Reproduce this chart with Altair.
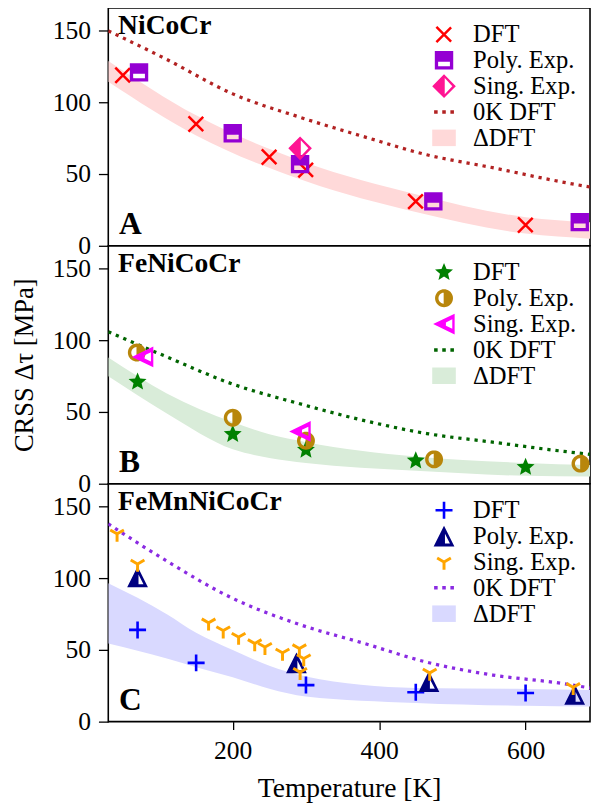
import math
import altair as alt
import pandas as pd

# ---------------- data ----------------
LEGEND_LABELS = ["DFT", "Poly. Exp.", "Sing. Exp.", "0K DFT", "ΔDFT"]
X_TICKS = [200, 400, 600]
Y_TICKS = [0, 50, 100, 150]
X_DOMAIN = [30, 688]
Y_DOMAIN = [0, 166]
X_LABEL = "Temperature [K]"
Y_LABEL = "CRSS Δτ [MPa]"
PANEL_NAMES = ["NiCoCr", "FeNiCoCr", "FeMnNiCoCr"]
PANEL_LETTERS = ["A", "B", "C"]

# Panel A : NiCoCr
A_dft_T = [50, 150, 250, 300, 450, 600]
A_dft_tau = [119, 85, 62, 53, 31, 14.5]
A_poly_T = [72, 200, 292, 474, 674]
A_poly_tau = [121, 78.5, 57, 31, 16.5]
A_sing_T = [292]
A_sing_tau = [68]
A_0K_T = [30, 110, 200, 290, 380, 465, 555, 645, 688]
A_0K_tau = [150, 130, 106, 90, 76, 63.5, 54.5, 45, 41]
A_band_T = [30, 150, 300, 450, 600, 688]
A_band_hi = [129, 91, 58, 36, 20, 16.5]
A_band_lo = [114.5, 77, 45, 23.5, 8.5, 5]

# Panel B : FeNiCoCr
B_dft_T = [70, 200, 300, 450, 600]
B_dft_tau = [71, 34.5, 23.5, 16, 11.5]
B_poly_T = [69, 200, 300, 475, 675]
B_poly_tau = [91.5, 46, 30, 17, 14]
B_sing_T = [77, 292]
B_sing_tau = [88.5, 36.5]
B_0K_T = [30, 110, 200, 290, 380, 465, 555, 645, 688]
B_0K_tau = [106, 88.5, 69.5, 56, 44, 35, 29, 23, 20.5]
B_band_T = [30, 110, 200, 250, 300, 450, 600, 688]
B_band_hi = [88, 63, 43, 34.5, 29, 19, 14.5, 13]
B_band_lo = [75, 49, 24, 18, 14.5, 9, 5.5, 5]

# Panel C : FeMnNiCoCr
C_dft_T = [70, 150, 300, 450, 600]
C_dft_tau = [64, 41, 25.5, 20.5, 20]
C_poly_T = [70, 287, 468, 667]
C_poly_tau = [101, 41, 28, 19]
C_sing_T = [42, 70, 167, 187, 208, 230, 244, 268, 291, 297, 292, 469, 665]
C_sing_tau = [131, 110, 69, 63.5, 59, 54.5, 52, 48, 51, 44, 34.5, 34, 24]
C_0K_T = [30, 110, 200, 290, 380, 465, 555, 645, 688]
C_0K_tau = [138, 112, 86, 68, 54.5, 41.5, 32.5, 27, 23.5]
C_band_T = [30, 110, 150, 200, 250, 300, 450, 600, 688]
C_band_hi = [96.5, 75, 62, 50, 39, 31.5, 23.5, 22.8, 22]
C_band_lo = [54.5, 44, 38, 31, 23, 17.5, 13, 11, 10.5]

# ---------------- styles ----------------
A_COLORS = ["#ff0000", "#9400d3", "#ff1493", "#b22222", "#ffd9d9"]
B_COLORS = ["#008000", "#b8860b", "#ff00ff", "#006400", "#d9ecd9"]
C_COLORS = ["#0000ff", "#000080", "#ffa500", "#8a2be2", "#d9d9ff"]


def ring(pts, sign):
    a = 0.0
    n = len(pts)
    for k in range(n):
        x1, y1 = pts[k]
        x2, y2 = pts[(k + 1) % n]
        a += x1 * y2 - x2 * y1
    if (a > 0) != (sign > 0):
        pts = pts[::-1]
    return "M" + " L".join(f"{x:.3f},{y:.3f}" for x, y in pts) + " Z"


def shape(fills, holes=()):
    return " ".join([ring(p, 1) for p in fills] + [ring(p, -1) for p in holes])


def rect(x0, y0, x1, y1):
    return [(x0, y0), (x1, y0), (x1, y1), (x0, y1)]


def bar(x0, y0, x1, y1, t):
    L = math.hypot(x1 - x0, y1 - y0)
    ux, uy = (x1 - x0) / L, (y1 - y0) / L
    x0, y0 = x0 - ux * t * 0.6, y0 - uy * t * 0.6
    nx, ny = -uy * t, ux * t
    return [(x0 + nx, y0 + ny), (x1 + nx, y1 + ny), (x1 - nx, y1 - ny), (x0 - nx, y0 - ny)]


def disk(r, n=40):
    return [(r * math.cos(2 * math.pi * k / n), r * math.sin(2 * math.pi * k / n)) for k in range(n)]


def half_disk_left(r, gap, n=24):
    pts = []
    for k in range(n + 1):
        t = math.pi / 2 + math.pi * k / n
        pts.append((min(r * math.cos(t), -gap), r * math.sin(t)))
    return pts


def star(R, r):
    pts = []
    for k in range(10):
        ang = -math.pi / 2 + k * math.pi / 5
        rad = R if k % 2 == 0 else r
        pts.append((rad * math.cos(ang), rad * math.sin(ang)))
    return pts


DOTS = shape([rect(c - 0.15, -0.15, c + 0.15, 0.15) for c in (-0.69, 0.0, 0.69)])
BAND = shape([rect(-1, -0.7, 1, 0.7)])

X_SHAPE = shape([bar(-0.6, -0.6, 0.6, 0.6, 0.105), bar(-0.6, 0.6, 0.6, -0.6, 0.105)])
SQUARE_TOP = shape([rect(-0.78, -0.78, 0.78, 0.78)], [rect(-0.5, 0.12, 0.5, 0.5)])
DIAMOND_LEFT = shape([[(0, -1), (1, 0), (0, 1), (-1, 0)]],
                     [[(0.06, -0.68), (0.7, 0), (0.06, 0.68)]])
STAR = shape([star(0.8, 0.36)])
CIRCLE_RIGHT = shape([disk(0.76)], [half_disk_left(0.47, 0.03)])
TRI_LEFT = shape([[(-0.92, 0), (0.9, -0.88), (0.9, 0.88)]],
                 [[(0.16, -0.14), (0.7, -0.4), (0.7, 0.4), (0.16, 0.14)]])
PLUS = shape([rect(-0.72, -0.11, 0.72, 0.11), rect(-0.11, -0.72, 0.11, 0.72)])
TRI_UP = shape([[(0, -0.88), (0.88, 0.88), (-0.88, 0.88)]],
               [[(0.08, -0.2), (0.5, 0.62), (0.08, 0.62)]])
Y_SHAPE = shape([bar(0, 0, 0, 0.66, 0.125), bar(0, 0, -0.58, -0.33, 0.125),
                 bar(0, 0, 0.58, -0.33, 0.125)])

A_SHAPES = [X_SHAPE, SQUARE_TOP, DIAMOND_LEFT, DOTS, BAND]
B_SHAPES = [STAR, CIRCLE_RIGHT, TRI_LEFT, DOTS, BAND]
C_SHAPES = [PLUS, TRI_UP, Y_SHAPE, DOTS, BAND]

FONT = "Liberation Serif"
PW = 490
PH = 242
SYM = 576


def panel(i, dft, poly, sing, zk, band, shapes, colors):
    rows = []
    for lab, (Ts, taus) in zip(LEGEND_LABELS[:3], [dft, poly, sing]):
        for T, tau in zip(Ts, taus):
            rows.append({"series": lab, "T": T, "tau": tau})
    pts = pd.DataFrame(rows)
    line_df = pd.DataFrame({"T": zk[0], "tau": zk[1]})
    band_df = pd.DataFrame({"T": band[0], "hi": band[1], "lo": band[2]})

    xs = alt.Scale(domain=X_DOMAIN, nice=False, zero=False)
    ys = alt.Scale(domain=Y_DOMAIN, nice=False, zero=False)
    if i == 2:
        xaxis = alt.Axis(values=X_TICKS, title=X_LABEL, tickSize=8, labelPadding=8,
                         titlePadding=12, titleFontSize=28, labelFlush=False)
    else:
        xaxis = None
    yaxis = alt.Axis(values=Y_TICKS, title=Y_LABEL if i == 1 else None, tickSize=10,
                     labelPadding=8, titlePadding=14, titleFontSize=27, labelFlush=False)

    X = alt.X("T:Q", scale=xs, axis=xaxis)
    leg = alt.Legend(title=None, orient="none", legendX=329, legendY=14.5, symbolSize=SYM,
                     symbolStrokeWidth=0, symbolOpacity=1, labelFont=FONT, labelFontSize=25,
                     labelColor="black", labelOffset=17, rowPadding=0.3, padding=0,
                     labelLimit=0)

    band_layer = alt.Chart(band_df).mark_area(color=colors[4], interpolate="monotone",
                                              clip=True).encode(
        x=X, y=alt.Y("hi:Q", scale=ys, axis=yaxis), y2="lo:Q")
    line_layer = alt.Chart(line_df).mark_line(color=colors[3], strokeWidth=3.3,
                                              strokeDash=[3.3, 5], strokeCap="butt",
                                              interpolate="monotone", clip=True).encode(
        x=X, y=alt.Y("tau:Q", scale=ys, axis=yaxis))
    pts_layer = alt.Chart(pts).mark_point(filled=True, size=SYM, opacity=1,
                                          strokeWidth=0).encode(
        x=X, y=alt.Y("tau:Q", scale=ys, axis=yaxis),
        shape=alt.Shape("series:N", scale=alt.Scale(domain=LEGEND_LABELS, range=shapes),
                        legend=leg),
        fill=alt.Fill("series:N", scale=alt.Scale(domain=LEGEND_LABELS, range=colors),
                      legend=leg),
    )
    name_layer = alt.Chart(pd.DataFrame({"t": [PANEL_NAMES[i]]})).mark_text(
        align="left", baseline="alphabetic", font=FONT, fontSize=28, fontWeight="bold",
        color="black").encode(x=alt.value(10), y=alt.value(27), text="t:N")
    letter_layer = alt.Chart(pd.DataFrame({"t": [PANEL_LETTERS[i]]})).mark_text(
        align="left", baseline="alphabetic", font=FONT, fontSize=32, fontWeight="bold",
        color="black").encode(x=alt.value(11), y=alt.value(PH - 12), text="t:N")

    return alt.layer(band_layer, line_layer, pts_layer, name_layer, letter_layer).properties(
        width=PW, height=PH)


pA = panel(0, (A_dft_T, A_dft_tau), (A_poly_T, A_poly_tau), (A_sing_T, A_sing_tau),
           (A_0K_T, A_0K_tau), (A_band_T, A_band_hi, A_band_lo), A_SHAPES, A_COLORS)
pB = panel(1, (B_dft_T, B_dft_tau), (B_poly_T, B_poly_tau), (B_sing_T, B_sing_tau),
           (B_0K_T, B_0K_tau), (B_band_T, B_band_hi, B_band_lo), B_SHAPES, B_COLORS)
pC = panel(2, (C_dft_T, C_dft_tau), (C_poly_T, C_poly_tau), (C_sing_T, C_sing_tau),
           (C_0K_T, C_0K_tau), (C_band_T, C_band_hi, C_band_lo), C_SHAPES, C_COLORS)

chart = (
    alt.vconcat(pA, pB, pC, spacing=0, bounds="flush")
    .resolve_scale(shape="independent", fill="independent")
    .resolve_legend(shape="independent", fill="independent")
    .properties(padding={"top": -8, "left": 2, "right": 0, "bottom": 0})
    .configure_view(stroke="black", strokeWidth=1.6)
    .configure_axis(labelFont=FONT, titleFont=FONT, labelFontSize=26,
                    titleFontWeight="normal", labelColor="black", titleColor="black",
                    tickColor="black", tickWidth=1.3, domain=False, grid=False)
    .configure_legend(labelFont=FONT, titleFont=FONT)
    .configure_text(font=FONT)
)

chart.save("out.html", embed_options={"renderer": "svg", "actions": False})
